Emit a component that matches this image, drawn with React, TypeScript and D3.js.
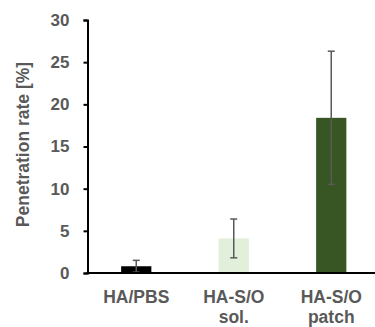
import { useEffect, useRef } from 'react';
import * as d3 from 'd3';

const categories = [['HA/PBS'], ['HA-S/O', 'sol.'], ['HA-S/O', 'patch']];
const values = [0.8, 4.1, 18.4];
const errors = [0.7, 2.3, 7.9];
const colors = ['#000000', '#e2efda', '#375623'];
const yTicks = [0, 5, 10, 15, 20, 25, 30];

export default function App() {
  const svgRef = useRef<SVGSVGElement>(null);

  useEffect(() => {
    if (!svgRef.current) return;
    const svg = d3.select(svgRef.current);
    svg.selectAll('*').remove();

    const left = 87.5;
    const top = 20;
    const bottom = 273;
    const font = "'Liberation Sans', Arial, sans-serif";
    const textColor = '#595959';

    const idx = categories.map((_, i) => String(i));
    const x = d3.scaleBand().domain(idx).range([left, 380]).paddingInner(0.69).paddingOuter(0.345);
    const y = d3.scaleLinear().domain([0, 30]).range([bottom, top]);

    // bars
    svg.append('g')
      .selectAll('rect')
      .data(values)
      .join('rect')
      .attr('x', (_, i) => x(String(i))!)
      .attr('y', (d) => y(d))
      .attr('width', x.bandwidth())
      .attr('height', (d) => bottom - y(d))
      .attr('fill', (_, i) => colors[i]);

    // error bars
    const eb = svg.append('g').attr('stroke', '#595959').attr('stroke-width', 1.5);
    values.forEach((v, i) => {
      const cx = x(String(i))! + x.bandwidth() / 2;
      const lo = y(Math.max(v - errors[i], 0));
      const hi = y(v + errors[i]);
      eb.append('line').attr('x1', cx).attr('x2', cx).attr('y1', lo).attr('y2', hi);
      eb.append('line').attr('x1', cx - 3.5).attr('x2', cx + 3.5).attr('y1', lo).attr('y2', lo);
      eb.append('line').attr('x1', cx - 3.5).attr('x2', cx + 3.5).attr('y1', hi).attr('y2', hi);
    });

    // y axis
    const yAxis = svg.append('g')
      .attr('transform', `translate(${left},0)`)
      .call(d3.axisLeft(y).tickValues(yTicks).tickSize(4).tickSizeOuter(4).tickPadding(14));
    yAxis.select('.domain').attr('stroke', '#000').attr('stroke-width', 2);
    yAxis.selectAll('.tick line').attr('stroke', '#000').attr('stroke-width', 2);
    yAxis.selectAll('.tick text')
      .attr('fill', textColor)
      .attr('font-family', font)
      .attr('font-weight', 'bold')
      .attr('font-size', '17px');

    // x axis baseline
    svg.append('line')
      .attr('x1', left - 1)
      .attr('x2', 375)
      .attr('y1', bottom)
      .attr('y2', bottom)
      .attr('stroke', '#000')
      .attr('stroke-width', 2);

    // category labels
    categories.forEach((lines, i) => {
      const cx = x(String(i))! + x.bandwidth() / 2;
      const t = svg.append('text')
        .attr('x', cx)
        .attr('y', 303)
        .attr('text-anchor', 'middle')
        .attr('fill', textColor)
        .attr('font-family', font)
        .attr('font-weight', 'bold')
        .attr('font-size', '17.5px');
      lines.forEach((ln, j) => {
        t.append('tspan').attr('x', cx).attr('dy', j === 0 ? 0 : 19.5).text(ln);
      });
    });

    // y label
    svg.append('text')
      .attr('transform', `translate(28.5,${(top + bottom) / 2 - 2}) rotate(-90)`)
      .attr('text-anchor', 'middle')
      .attr('fill', textColor)
      .attr('font-family', font)
      .attr('font-weight', 'bold')
      .attr('font-size', '17.5px')
      .text('Penetration rate [%]');
  }, []);

  return (
    <svg
      ref={svgRef}
      width={375}
      height={327}
      style={{ position: 'absolute', left: 0, top: 0, background: '#fff' }}
    />
  );
}
